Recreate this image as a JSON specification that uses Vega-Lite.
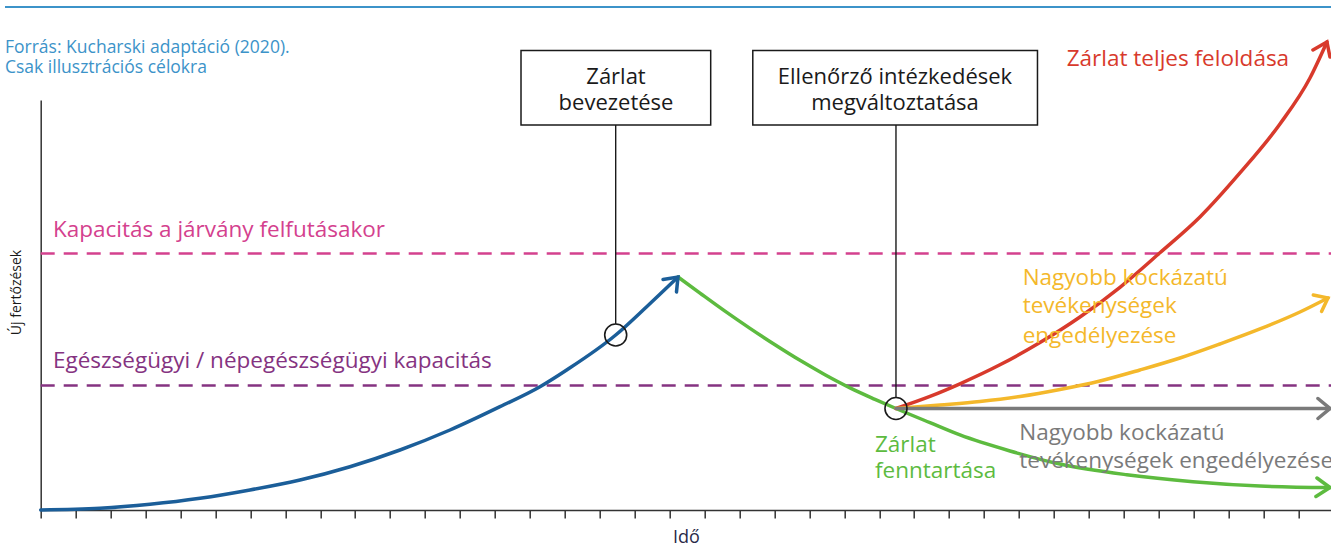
{
  "$schema": "https://vega.github.io/schema/vega-lite/v6.json",
  "width": 1290.3,
  "height": 410,
  "autosize": {"type": "none"},
  "padding": {"left": 40.7, "top": 100, "right": 0, "bottom": 40},
  "background": "white",
  "config": {"view": {"stroke": null}, "font": "Open Sans"},
  "encoding": {
    "x": {"field": "t", "type": "quantitative",
      "scale": {"domain": [0, 36.93], "nice": false, "zero": false},
      "axis": {"values": [0,1,2,3,4,5,6,7,8,9,10,11,12,13,14,15,16,17,18,19,20,21,22,23,24,25,26,27,28,29,30,31,32,33,34,35,36],
        "labels": false, "grid": false, "tickSize": 8, "tickWidth": 1.5, "tickColor": "#333333",
        "domainColor": "#333333", "domainWidth": 1.5, "title": "Idő", "titleFont": "Open Sans",
        "titleFontSize": 18, "titleFontWeight": "normal", "titleColor": "#2a2a48",
        "titleBaseline": "alphabetic", "titleY": 32}},
    "y": {"field": "v", "type": "quantitative",
      "scale": {"domain": [0, 100], "nice": false, "zero": false},
      "axis": {"labels": false, "ticks": false, "grid": false, "domainColor": "#333333", "domainWidth": 1.5,
        "title": "Új fertőzések", "titleFont": "Open Sans", "titleFontSize": 14, "titleFontWeight": "normal",
        "titleColor": "#1a1a1a", "titleAngle": -90, "titleX": -20, "titleY": 192, "titleAlign": "center",
        "titleBaseline": "alphabetic"}}
  },
  "layer": [
    {
      "data": {"values": [
        {"series": "forrás", "t": -1.022, "t2": 36.93, "v": 122.68}
      ]},
      "mark": {"type": "rule", "strokeWidth": 2},
      "encoding": {
        "x2": {"field": "t2"},
        "color": {"field": "series", "type": "nominal", "legend": null,
          "scale": {"domain": ["bevezetés","fenntartás","teljes feloldás","engedélyezés A","engedélyezés B","felfutási kapacitás","egészségügyi kapacitás","forrás"],
            "range": ["#1b5e99","#5dbb3f","#d83a2c","#f4b82b","#7a7a7a","#d4418e","#853381","#3c93c9"]}}
      }
    },
    {
      "data": {"values": [
        {"series": "felfutási kapacitás", "t": 0, "t2": 36.93, "v": 62.56},
        {"series": "egészségügyi kapacitás", "t": 0, "t2": 36.93, "v": 30.37}
      ]},
      "mark": {"type": "rule", "strokeWidth": 2.5, "strokeDash": [14, 9]},
      "encoding": {
        "x2": {"field": "t2"},
        "color": {"field": "series", "type": "nominal", "legend": null,
          "scale": {"domain": ["bevezetés","fenntartás","teljes feloldás","engedélyezés A","engedélyezés B","felfutási kapacitás","egészségügyi kapacitás","forrás"],
            "range": ["#1b5e99","#5dbb3f","#d83a2c","#f4b82b","#7a7a7a","#d4418e","#853381","#3c93c9"]}}
      }
    },
    {
      "data": {"values": [
        {"series": "bevezetés", "t": 0, "v": 0},
        {"series": "bevezetés", "t": 1.697, "v": 0.41},
        {"series": "bevezetés", "t": 3.128, "v": 1.39},
        {"series": "bevezetés", "t": 4.559, "v": 2.85},
        {"series": "bevezetés", "t": 5.99, "v": 4.88},
        {"series": "bevezetés", "t": 7.421, "v": 7.32},
        {"series": "bevezetés", "t": 8.852, "v": 10.56},
        {"series": "bevezetés", "t": 10.283, "v": 14.63},
        {"series": "bevezetés", "t": 11.714, "v": 19.51},
        {"series": "bevezetés", "t": 13.145, "v": 25.2},
        {"series": "bevezetés", "t": 14.29, "v": 30.07},
        {"series": "bevezetés", "t": 15.054, "v": 34.15},
        {"series": "bevezetés", "t": 16.457, "v": 42.68},
        {"series": "bevezetés", "t": 17.344, "v": 49.59},
        {"series": "bevezetés", "t": 18.24, "v": 56.83},
        {"series": "fenntartás", "t": 18.24, "v": 56.83},
        {"series": "fenntartás", "t": 18.87, "v": 52.9},
        {"series": "fenntartás", "t": 19.585, "v": 48.5},
        {"series": "fenntartás", "t": 20.301, "v": 44.3},
        {"series": "fenntartás", "t": 21.016, "v": 40.3},
        {"series": "fenntartás", "t": 21.732, "v": 36.5},
        {"series": "fenntartás", "t": 22.447, "v": 33.0},
        {"series": "fenntartás", "t": 23.163, "v": 29.8},
        {"series": "fenntartás", "t": 23.878, "v": 27.0},
        {"series": "fenntartás", "t": 24.479, "v": 24.76},
        {"series": "fenntartás", "t": 25.453, "v": 21.3},
        {"series": "fenntartás", "t": 26.311, "v": 18.3},
        {"series": "fenntartás", "t": 27.742, "v": 14.4},
        {"series": "fenntartás", "t": 29.173, "v": 11.2},
        {"series": "fenntartás", "t": 31.082, "v": 8.6},
        {"series": "fenntartás", "t": 32.979, "v": 6.9},
        {"series": "fenntartás", "t": 34.897, "v": 5.85},
        {"series": "fenntartás", "t": 36.9, "v": 5.49},
        {"series": "teljes feloldás", "t": 24.479, "v": 24.76},
        {"series": "teljes feloldás", "t": 25.452, "v": 27.71},
        {"series": "teljes feloldás", "t": 26.31, "v": 30.78},
        {"series": "teljes feloldás", "t": 27.455, "v": 35.41},
        {"series": "teljes feloldás", "t": 28.6, "v": 40.83},
        {"series": "teljes feloldás", "t": 29.745, "v": 47.07},
        {"series": "teljes feloldás", "t": 30.89, "v": 54.32},
        {"series": "teljes feloldás", "t": 32.034, "v": 62.73},
        {"series": "teljes feloldás", "t": 33.179, "v": 71.46},
        {"series": "teljes feloldás", "t": 34.324, "v": 82.2},
        {"series": "teljes feloldás", "t": 35.469, "v": 94.15},
        {"series": "teljes feloldás", "t": 36.328, "v": 105.37},
        {"series": "teljes feloldás", "t": 36.814, "v": 114.15},
        {"series": "engedélyezés A", "t": 24.479, "v": 24.76},
        {"series": "engedélyezés A", "t": 25.738, "v": 25.61},
        {"series": "engedélyezés A", "t": 26.883, "v": 26.46},
        {"series": "engedélyezés A", "t": 28.028, "v": 27.68},
        {"series": "engedélyezés A", "t": 29.173, "v": 29.39},
        {"series": "engedélyezés A", "t": 30.317, "v": 31.46},
        {"series": "engedélyezés A", "t": 31.462, "v": 34.15},
        {"series": "engedélyezés A", "t": 32.607, "v": 37.07},
        {"series": "engedélyezés A", "t": 33.751, "v": 40.49},
        {"series": "engedélyezés A", "t": 34.897, "v": 44.15},
        {"series": "engedélyezés A", "t": 36.041, "v": 48.29},
        {"series": "engedélyezés A", "t": 36.843, "v": 51.71},
        {"series": "engedélyezés B", "t": 24.479, "v": 24.76},
        {"series": "engedélyezés B", "t": 36.9, "v": 24.76}
      ]},
      "mark": {"type": "line", "interpolate": "monotone", "strokeWidth": 3.5, "strokeCap": "round"},
      "encoding": {
        "color": {"field": "series", "type": "nominal", "legend": null,
          "scale": {"domain": ["bevezetés","fenntartás","teljes feloldás","engedélyezés A","engedélyezés B","felfutási kapacitás","egészségügyi kapacitás","forrás"],
            "range": ["#1b5e99","#5dbb3f","#d83a2c","#f4b82b","#7a7a7a","#d4418e","#853381","#3c93c9"]}}
      }
    },
    {
      "data": {"values": [
        {"series": "bevezetés", "i": 1, "t": 17.811, "v": 56.22},
        {"series": "bevezetés", "i": 2, "t": 18.24, "v": 56.83},
        {"series": "bevezetés", "i": 3, "t": 18.197, "v": 53.17},
        {"series": "fenntartás", "i": 1, "t": 36.528, "v": 7.8},
        {"series": "fenntartás", "i": 2, "t": 36.9, "v": 5.49},
        {"series": "fenntartás", "i": 3, "t": 36.499, "v": 3.29},
        {"series": "teljes feloldás", "i": 1, "t": 36.413, "v": 112.2},
        {"series": "teljes feloldás", "i": 2, "t": 36.814, "v": 114.15},
        {"series": "teljes feloldás", "i": 3, "t": 36.9, "v": 110.49},
        {"series": "engedélyezés A", "i": 1, "t": 36.423, "v": 52.44},
        {"series": "engedélyezés A", "i": 2, "t": 36.843, "v": 51.71},
        {"series": "engedélyezés A", "i": 3, "t": 36.66, "v": 48.41},
        {"series": "engedélyezés B", "i": 1, "t": 36.557, "v": 27.2},
        {"series": "engedélyezés B", "i": 2, "t": 36.9, "v": 24.76},
        {"series": "engedélyezés B", "i": 3, "t": 36.557, "v": 22.32}
      ]},
      "mark": {"type": "line", "strokeWidth": 3.5, "strokeCap": "round", "strokeJoin": "miter"},
      "encoding": {
        "order": {"field": "i", "type": "quantitative"},
        "color": {"field": "series", "type": "nominal", "legend": null,
          "scale": {"domain": ["bevezetés","fenntartás","teljes feloldás","engedélyezés A","engedélyezés B","felfutási kapacitás","egészségügyi kapacitás","forrás"],
            "range": ["#1b5e99","#5dbb3f","#d83a2c","#f4b82b","#7a7a7a","#d4418e","#853381","#3c93c9"]}}
      }
    },
    {
      "data": {"values": [
        {"t": 16.457, "v": 93.9, "v2": 45.37},
        {"t": 24.479, "v": 93.9, "v2": 27.44}
      ]},
      "mark": {"type": "rule", "strokeWidth": 1.4, "color": "#1a1a1a"},
      "encoding": {"y2": {"field": "v2"}}
    },
    {
      "data": {"values": [
        {"t": 13.747, "t2": 19.176, "v": 112.07, "v2": 93.9},
        {"t": 20.381, "t2": 28.529, "v": 112.07, "v2": 93.9}
      ]},
      "mark": {"type": "rect", "fill": "white", "stroke": "#1a1a1a", "strokeWidth": 1.5},
      "encoding": {"x2": {"field": "t2"}, "y2": {"field": "v2"}}
    },
    {
      "data": {"values": [
        {"t": 16.457, "v": 42.68},
        {"t": 24.479, "v": 24.76}
      ]},
      "mark": {"type": "point", "shape": "circle", "size": 484, "filled": false, "color": "#1a1a1a", "strokeWidth": 1.6, "opacity": 1}
    },
    {
      "data": {"values": [
        {"t": -1.022, "v": 111.46, "label": "Forrás: Kucharski adaptáció (2020)."},
        {"t": -1.022, "v": 106.59, "label": "Csak illusztrációs célokra"}
      ]},
      "mark": {"type": "text", "align": "left", "baseline": "alphabetic", "fontSize": 17.5, "font": "Open Sans", "color": "#3c93c9"},
      "encoding": {"text": {"field": "label"}}
    },
    {
      "data": {"values": [
        {"series": "felfutási kapacitás", "t": 0.352, "v": 66.59, "label": "Kapacitás a járvány felfutásakor"},
        {"series": "egészségügyi kapacitás", "t": 0.352, "v": 34.63, "label": "Egészségügyi / népegészségügyi kapacitás"},
        {"series": "teljes feloldás", "t": 29.365, "v": 108.29, "label": "Zárlat teljes feloldása"},
        {"series": "engedélyezés A", "t": 28.105, "v": 54.88, "label": "Nagyobb kockázatú"},
        {"series": "engedélyezés A", "t": 28.105, "v": 47.98, "label": "tevékenységek"},
        {"series": "engedélyezés A", "t": 28.105, "v": 40.66, "label": "engedélyezése"},
        {"series": "engedélyezés B", "t": 28.008, "v": 17.07, "label": "Nagyobb kockázatú"},
        {"series": "engedélyezés B", "t": 28.008, "v": 10.17, "label": "tevékenységek engedélyezése"},
        {"series": "fenntartás", "t": 23.878, "v": 14.22, "label": "Zárlat"},
        {"series": "fenntartás", "t": 23.878, "v": 7.73, "label": "fenntartása"}
      ]},
      "mark": {"type": "text", "align": "left", "baseline": "alphabetic", "fontSize": 22.5, "font": "Open Sans"},
      "encoding": {
        "text": {"field": "label"},
        "color": {"field": "series", "type": "nominal", "legend": null,
          "scale": {"domain": ["bevezetés","fenntartás","teljes feloldás","engedélyezés A","engedélyezés B","felfutási kapacitás","egészségügyi kapacitás","forrás"],
            "range": ["#1b5e99","#5dbb3f","#d83a2c","#f4b82b","#7a7a7a","#d4418e","#853381","#3c93c9"]}}
      }
    },
    {
      "data": {"values": [
        {"t": 16.466, "v": 103.9, "label": "Zárlat"},
        {"t": 16.466, "v": 97.56, "label": "bevezetése"},
        {"t": 24.451, "v": 103.9, "label": "Ellenőrző intézkedések"},
        {"t": 24.451, "v": 97.56, "label": "megváltoztatása"}
      ]},
      "mark": {"type": "text", "align": "center", "baseline": "alphabetic", "fontSize": 22, "font": "Open Sans", "color": "#1a1a1a"},
      "encoding": {"text": {"field": "label"}}
    }
  ]
}
